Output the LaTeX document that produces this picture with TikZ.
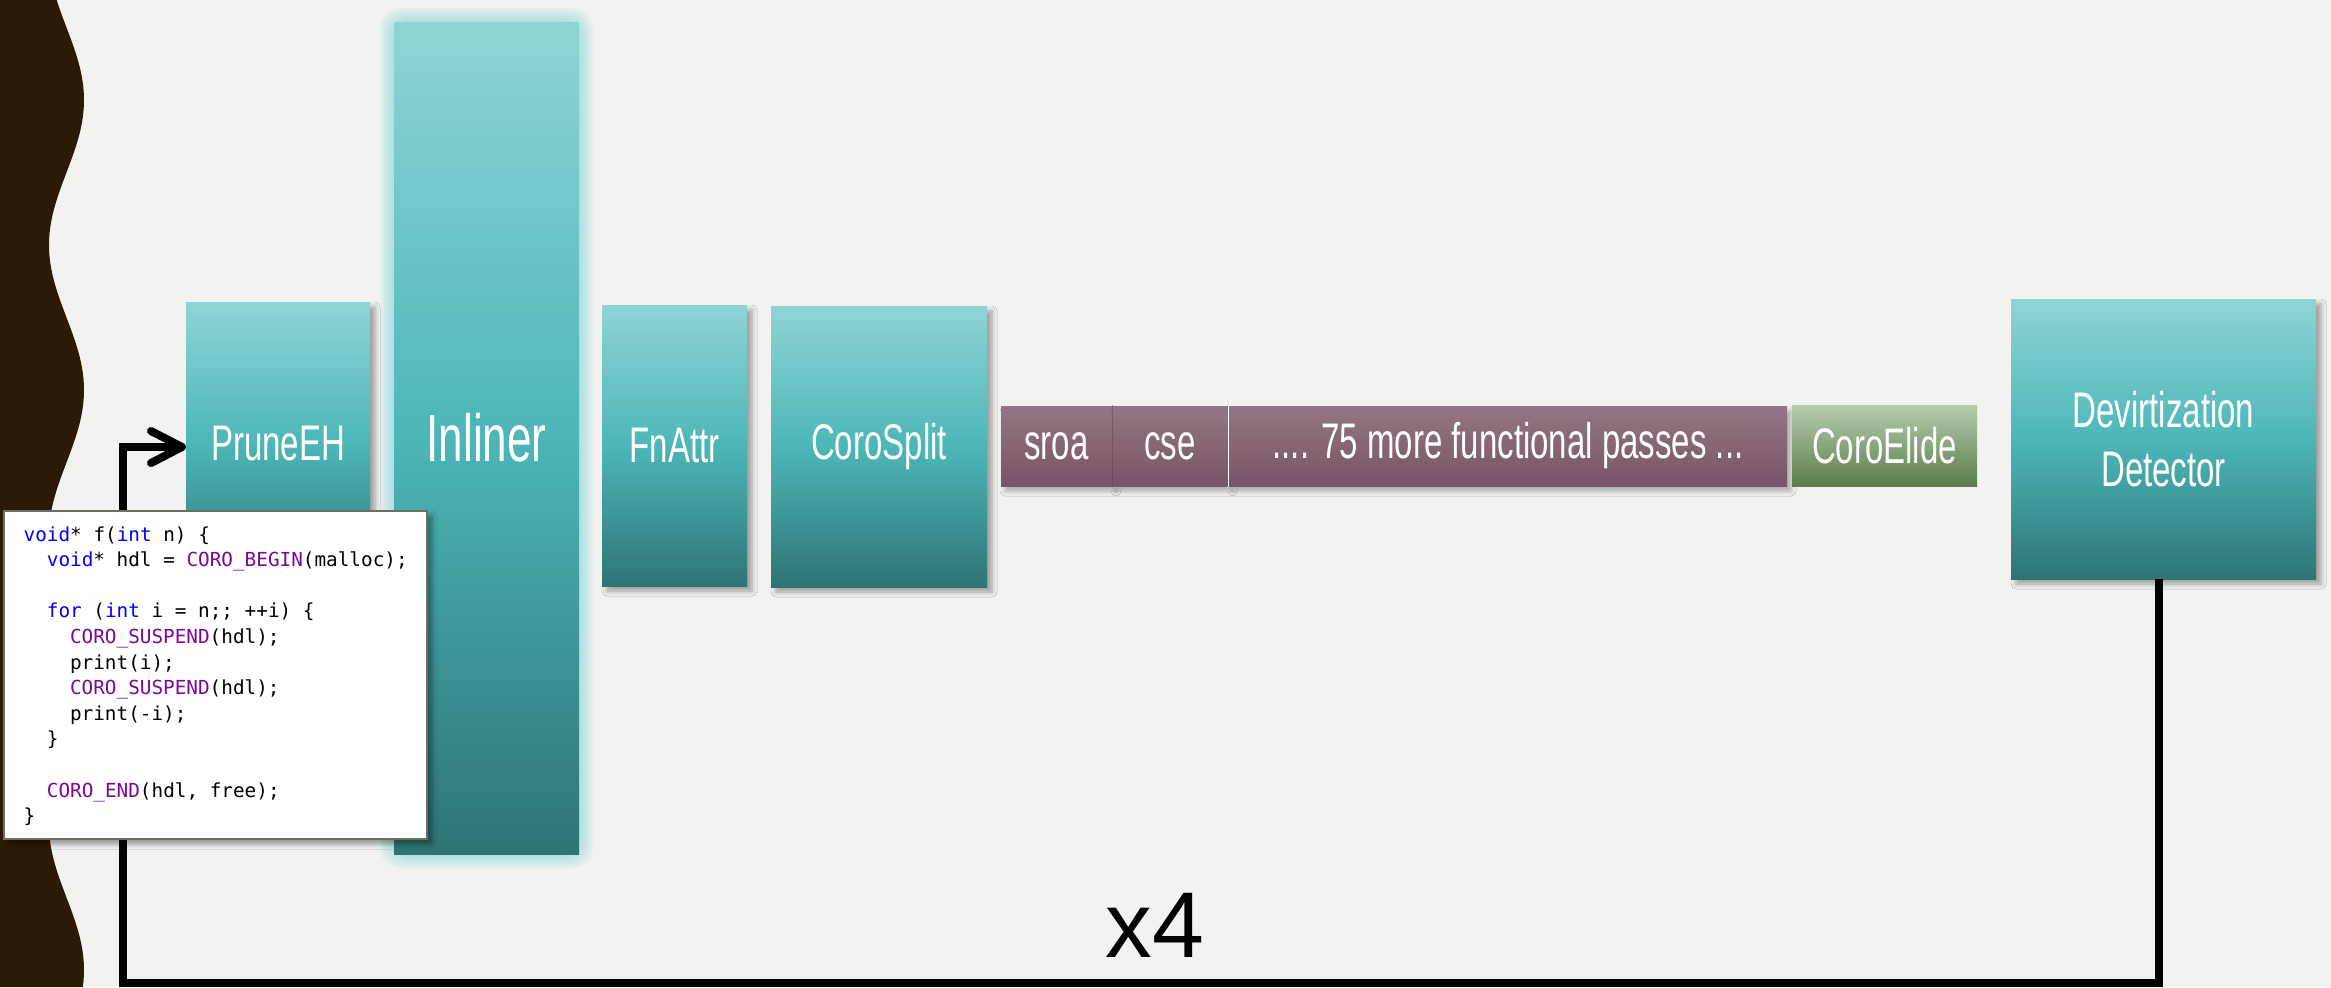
\documentclass[tikz,border=0pt]{standalone}
\usepackage{fontspec}
\setmainfont{Liberation Sans}
\newfontfamily\codefont{DejaVu Sans Mono}
\usetikzlibrary{arrows.meta,shadows.blur}
\definecolor{bg}{HTML}{F2F2F0}
\definecolor{band}{HTML}{2B1B04}
\definecolor{tealTop}{HTML}{8FD4D5}
\definecolor{tealMid}{HTML}{4DB6B8}
\definecolor{tealBot}{HTML}{2E7475}
\definecolor{purTop}{HTML}{937685}
\definecolor{purBot}{HTML}{775467}
\definecolor{grnTop}{HTML}{B6CDAD}
\definecolor{grnBot}{HTML}{5B7D4C}
\definecolor{glow}{HTML}{7FD6DA}
\definecolor{kw}{HTML}{0000FF}
\definecolor{mac}{HTML}{7A0A92}
\definecolor{codeborder}{HTML}{6E6E60}
\newcommand{\cond}[1]{\scalebox{0.66}[1]{#1}}
\newcommand{\kwd}[1]{\textcolor{kw}{#1}}
\newcommand{\mcr}[1]{\textcolor{mac}{#1}}
\tikzset{
  x=0.3pt, y=-0.3pt,
  passbox/.style={rectangle, inner sep=0pt, text=white,
    font=\fontsize{15}{17.7}\selectfont, align=center},
  tealbox/.style={passbox, top color=tealTop, bottom color=tealBot, middle color=tealMid,
    blur shadow={shadow xshift=1.5pt, shadow yshift=-1.5pt, shadow blur radius=1.5pt, shadow opacity=35}},
  purbox/.style={passbox, top color=purTop, bottom color=purBot,
    blur shadow={shadow xshift=1.2pt, shadow yshift=-1.5pt, shadow blur radius=1.5pt, shadow opacity=30}},
  grnbox/.style={passbox, top color=grnTop, bottom color=grnBot},
  codeline/.style={anchor=base west, inner sep=0pt, font=\codefont\fontsize{5.8}{7.6}\selectfont},
  loopline/.style={line width=2.4pt, black, line join=miter},
}
\begin{document}
\begin{tikzpicture}
\fill[bg] (0,0) rectangle (2331,987);
\useasboundingbox (0,0) rectangle (2331,987);
% wavy left band
\fill[band] (0,0) -- plot[domain=0:987, samples=160, smooth] ({66.5+17.5*cos(1.24138*(\x-100))}, \x) -- (0,987) -- cycle;

% Inliner glow
\foreach \g in {1,...,7}{
  \fill[glow, opacity=0.10, rounded corners=6pt] ({394-2*\g},{22-2*\g}) rectangle ({579+2*\g},{854+2*\g});
}

% pass boxes
\node[tealbox, minimum width=55.2pt, minimum height=84.9pt] (prune) at (278,443.5) {\cond{PruneEH}};
\node[passbox, top color=tealTop, bottom color=tealBot, middle color=tealMid, minimum width=55.5pt, minimum height=249.6pt,
  font=\fontsize{20}{24}\selectfont] (inliner) at (486.5,438) {\cond{Inliner}};
\node[tealbox, minimum width=43.5pt, minimum height=84.3pt] (fnattr) at (674.5,445.5) {\cond{FnAttr}};
\node[tealbox, minimum width=64.8pt, minimum height=84.3pt] (corosplit) at (879,446.5) {\cond{CoroSplit}};
\node[purbox, minimum width=33.3pt, minimum height=24pt] (sroa) at (1056.5,446) {\cond{sroa}};
\node[purbox, minimum width=34.8pt, minimum height=24pt] (cse) at (1170,446) {\cond{cse}};
\node[purbox, minimum width=167.4pt, minimum height=24pt] (more) at (1508,446) {\cond{.... 75 more functional passes ...}};
\draw[white, line width=0.4pt] (cse.north east) -- (cse.south east);
\draw[purBot!80!black, line width=0.3pt, opacity=0.5] (sroa.north east) -- (sroa.south east);
\node[grnbox, minimum width=55.5pt, minimum height=24.3pt] (coroelide) at (1884.5,445.5) {\cond{CoroElide}};
\node[tealbox, minimum width=91.5pt, minimum height=84pt] (devirt) at (2163.5,439) {\cond{Devirtization}\\\cond{Detector}};

% loop connector
\coordinate (loopbr) at (2159,983);
\coordinate (loopbl) at (123,983);
\coordinate (looptl) at (123,447);
\coordinate (devout) at (2159,579);
\coordinate (pruin) at (186,447);
\draw[loopline, -{Straight Barb[length=9.3pt, width=9.6pt, line cap=round, line join=round]}]
  (devout) -- (loopbr) -- (loopbl) -- (looptl) -- (pruin);

\node[inner sep=0pt, anchor=base, font=\fontsize{28}{32}\selectfont] (times) at (1155,957) {x4};

% code box
\node[rectangle, fill=white, draw=codeborder, line width=0.6pt, inner sep=0pt,
  minimum width=126.9pt, minimum height=98.4pt,
  blur shadow={shadow xshift=1.5pt, shadow yshift=-1.5pt, shadow blur radius=1.5pt, shadow opacity=40}] (code) at (215.5,675) {};
\node[codeline] (c0) at (23,541) {\kwd{void}* f(\kwd{int} n) \{};
\node[codeline] (c1) at (46.2,566.6) {\kwd{void}* hdl = \mcr{CORO\_BEGIN}(malloc);};
\node[codeline] (c3) at (46.2,617.8) {\kwd{for} (\kwd{int} i = n;; ++i) \{};
\node[codeline] (c4) at (69.4,643.4) {\mcr{CORO\_SUSPEND}(hdl);};
\node[codeline] (c5) at (69.4,669) {print(i);};
\node[codeline] (c6) at (69.4,694.6) {\mcr{CORO\_SUSPEND}(hdl);};
\node[codeline] (c7) at (69.4,720.2) {print(-i);};
\node[codeline] (c8) at (46.2,745.8) {\}};
\node[codeline] (c10) at (46.2,797) {\mcr{CORO\_END}(hdl, free);};
\node[codeline] (c11) at (23,822.6) {\}};
\end{tikzpicture}
\end{document}
